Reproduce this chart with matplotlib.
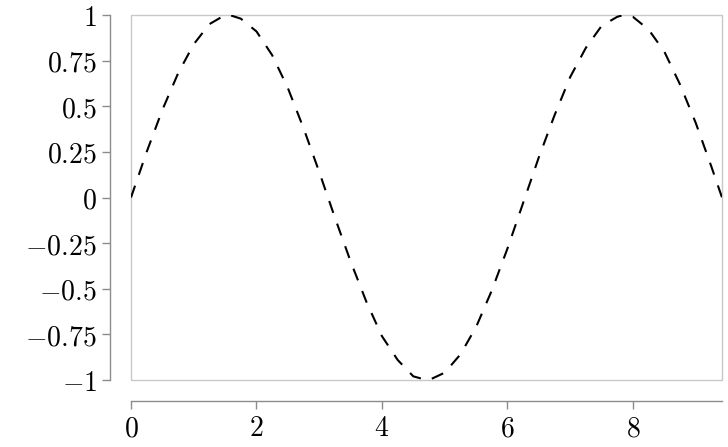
import matplotlib
matplotlib.use("Agg")
import matplotlib.pyplot as plt
from matplotlib.patches import Rectangle
from matplotlib.ticker import FuncFormatter

plt.rcParams['mathtext.fontset'] = 'cm'

# values
x_vals = [0.0, 0.25, 0.5, 0.75, 1.0, 1.25, 1.5, 1.57, 1.75, 2.0, 2.25, 2.5, 2.75,
          3.0, 3.25, 3.5, 3.75, 4.0, 4.25, 4.5, 4.71, 4.75, 5.0, 5.25, 5.5, 5.75,
          6.0, 6.25, 6.5, 6.75, 7.0, 7.25, 7.5, 7.75, 7.85, 8.0, 8.25, 8.5, 8.75,
          9.0, 9.25, 9.42]
y_vals = [0.0, 0.25, 0.48, 0.68, 0.84, 0.95, 1.0, 1.0, 0.98, 0.91, 0.78, 0.60, 0.38,
          0.14, -0.11, -0.35, -0.57, -0.76, -0.89, -0.98, -1.0, -1.0, -0.96, -0.86, -0.71, -0.51,
          -0.28, -0.03, 0.22, 0.45, 0.66, 0.82, 0.94, 0.99, 1.0, 0.99, 0.92, 0.80, 0.62,
          0.41, 0.17, 0.0]

x_ticks = [0, 2, 4, 6, 8]
y_ticks = [-1, -0.75, -0.5, -0.25, 0, 0.25, 0.5, 0.75, 1]

fig = plt.figure(figsize=(7.28, 4.47), dpi=100)
ax = fig.add_axes([131/728, 1 - 380/447, (722 - 131)/728, (380 - 15)/447])

ax.plot(x_vals, y_vals, color="black", lw=1.5, linestyle=(0, (6, 5.5)))

ax.set_xlim(0, 9.42)
ax.set_ylim(-1, 1)
ax.set_xticks(x_ticks)
ax.set_yticks(y_ticks)

fmt = FuncFormatter(lambda v, pos: "$%g$" % v)
ax.xaxis.set_major_formatter(fmt)
ax.yaxis.set_major_formatter(fmt)

spine_col = "#8c8c8c"
for side in ["top", "right"]:
    ax.spines[side].set_visible(False)
for side in ["left", "bottom"]:
    ax.spines[side].set_position(("outward", 15))
    ax.spines[side].set_color(spine_col)
    ax.spines[side].set_linewidth(1.0)
ax.spines["left"].set_bounds(-1, 1)
ax.spines["bottom"].set_bounds(0, 9.42)

ax.tick_params(direction="out", length=5.5, width=1.0, color=spine_col,
               labelsize=20, pad=4)

# light frame round the data area
ax.add_patch(Rectangle((0, 0), 1, 1, transform=ax.transAxes, fill=False,
                       edgecolor="#c8c8c8", lw=1.0, clip_on=False, zorder=0))

fig.savefig("out.png", dpi=100)
